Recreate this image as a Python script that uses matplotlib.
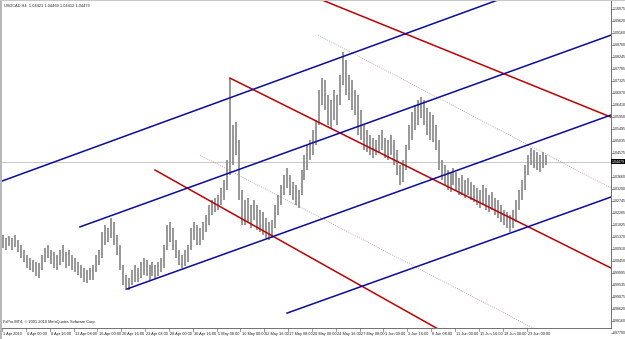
import matplotlib.pyplot as plt
from matplotlib.patches import Rectangle
import matplotlib.transforms as mtransforms

# USDCAD H4 chart, 1 Apr - 23 Jun 2010
header = "USDCAD,H4  1.04421 1.04469 1.04412 1.04479"
copyright_text = "FxPro MT4, \u00a9 2001-2010 MetaQuotes Software Corp."
last_price = 1.0423
last_label = "1.04479"

time_labels = ["1 Apr 2010", "6 Apr 00:00", "8 Apr 16:00", "13 Apr 08:00", "16 Apr 00:00",
               "20 Apr 16:00", "23 Apr 08:00", "28 Apr 00:00", "30 Apr 16:00", "5 May 08:00",
               "10 May 00:00", "12 May 16:00", "17 May 08:00", "20 May 00:00", "24 May 16:00",
               "27 May 08:00", "1 Jun 00:00", "3 Jun 16:00", "8 Jun 08:00", "11 Jun 00:00",
               "15 Jun 16:00", "18 Jun 08:00", "23 Jun 00:00"]
bars_per_label = 16

price_ticks = [0.97700, 0.98160, 0.98620, 0.99075, 0.99535, 0.99995, 1.00450, 1.00910,
               1.01370, 1.01825, 1.02285, 1.02745, 1.03200, 1.03660, 1.04575,
               1.05035, 1.05495, 1.05950, 1.06410, 1.06870, 1.07325, 1.07785, 1.08245,
               1.08700, 1.09160, 1.09620, 1.10075]

# every second H4 bar: high / low
bar_high = [1.0144, 1.0133, 1.0140, 1.0133, 1.0144, 1.0125, 1.0106, 1.0087, 1.0068, 1.0056,
            1.0049, 1.0041, 1.0037, 1.0068, 1.0094, 1.0106, 1.0087, 1.0079, 1.0068, 1.0087,
            1.0106, 1.0079, 1.0087, 1.0068, 1.0056, 1.0041, 1.0030, 1.0018, 1.0010, 1.0018,
            1.0030, 1.0068, 1.0087, 1.0155, 1.0182, 1.0171, 1.0209, 1.0194, 1.0144, 1.0106,
            1.0030, 0.9991, 0.9980, 1.0010, 1.0030, 1.0018, 1.0041, 1.0056, 1.0049, 1.0030,
            1.0041, 1.0030, 1.0041, 1.0056, 1.0106, 1.0182, 1.0194, 1.0171, 1.0125, 1.0087,
            1.0068, 1.0087, 1.0106, 1.0171, 1.0194, 1.0182, 1.0171, 1.0194, 1.0220, 1.0259,
            1.0278, 1.0285, 1.0297, 1.0323, 1.0354, 1.0430, 1.0743, 1.0564, 1.0575, 1.0507,
            1.0316, 1.0278, 1.0285, 1.0259, 1.0278, 1.0259, 1.0239, 1.0232, 1.0209, 1.0194,
            1.0201, 1.0259, 1.0297, 1.0335, 1.0373, 1.0400, 1.0373, 1.0346, 1.0335, 1.0316,
            1.0392, 1.0449, 1.0488, 1.0507, 1.0545, 1.0583, 1.0698, 1.0743, 1.0736, 1.0678,
            1.0659, 1.0698, 1.0678, 1.0755, 1.0843, 1.0812, 1.0755, 1.0736, 1.0698, 1.0678,
            1.0621, 1.0564, 1.0545, 1.0526, 1.0514, 1.0507, 1.0526, 1.0545, 1.0514, 1.0507,
            1.0526, 1.0507, 1.0468, 1.0411, 1.0430, 1.0488, 1.0564, 1.0614, 1.0640, 1.0659,
            1.0671, 1.0659, 1.0629, 1.0614, 1.0602, 1.0564, 1.0507, 1.0430, 1.0411, 1.0392,
            1.0385, 1.0400, 1.0385, 1.0362, 1.0373, 1.0354, 1.0362, 1.0346, 1.0335, 1.0323,
            1.0316, 1.0335, 1.0323, 1.0297, 1.0308, 1.0285, 1.0278, 1.0259, 1.0239, 1.0232,
            1.0220, 1.0239, 1.0278, 1.0316, 1.0354, 1.0411, 1.0449, 1.0476, 1.0468, 1.0461,
            1.0449, 1.0461, 1.0449]
bar_low = [1.0094, 1.0087, 1.0102, 1.0087, 1.0098, 1.0079, 1.0056, 1.0041, 1.0018, 1.0010,
           1.0003, 0.9988, 0.9980, 1.0010, 1.0041, 1.0056, 1.0033, 1.0018, 1.0010, 1.0030,
           1.0041, 1.0018, 1.0026, 1.0010, 1.0003, 0.9991, 0.9980, 0.9965, 0.9961, 0.9972,
           0.9972, 1.0003, 1.0030, 1.0056, 1.0106, 1.0117, 1.0133, 1.0106, 1.0068, 1.0010,
           0.9953, 0.9934, 0.9934, 0.9953, 0.9965, 0.9965, 0.9980, 0.9991, 0.9988, 0.9972,
           0.9988, 0.9980, 0.9988, 1.0003, 1.0018, 1.0087, 1.0117, 1.0087, 1.0056, 1.0030,
           1.0018, 1.0026, 1.0041, 1.0087, 1.0125, 1.0106, 1.0106, 1.0125, 1.0155, 1.0182,
           1.0220, 1.0232, 1.0239, 1.0259, 1.0278, 1.0316, 1.0373, 1.0411, 1.0449, 1.0278,
           1.0182, 1.0182, 1.0194, 1.0171, 1.0201, 1.0163, 1.0155, 1.0144, 1.0133, 1.0125,
           1.0133, 1.0171, 1.0220, 1.0259, 1.0297, 1.0323, 1.0297, 1.0278, 1.0259, 1.0247,
           1.0297, 1.0354, 1.0392, 1.0430, 1.0449, 1.0488, 1.0564, 1.0640, 1.0621, 1.0564,
           1.0552, 1.0583, 1.0564, 1.0640, 1.0717, 1.0678, 1.0659, 1.0621, 1.0602, 1.0526,
           1.0507, 1.0468, 1.0461, 1.0449, 1.0438, 1.0449, 1.0461, 1.0468, 1.0438, 1.0430,
           1.0449, 1.0411, 1.0373, 1.0335, 1.0346, 1.0392, 1.0468, 1.0507, 1.0545, 1.0564,
           1.0591, 1.0564, 1.0526, 1.0507, 1.0499, 1.0468, 1.0392, 1.0354, 1.0335, 1.0316,
           1.0308, 1.0335, 1.0316, 1.0297, 1.0297, 1.0285, 1.0297, 1.0278, 1.0270, 1.0259,
           1.0247, 1.0259, 1.0239, 1.0232, 1.0239, 1.0220, 1.0209, 1.0194, 1.0182, 1.0171,
           1.0155, 1.0171, 1.0194, 1.0239, 1.0278, 1.0316, 1.0373, 1.0411, 1.0400, 1.0392,
           1.0385, 1.0400, 1.0411]

# trendlines: ((bar, price), (bar, price))
blue_lines = [((0.0, 1.0350), (347.7, 1.1072)),
              ((52.3, 1.0175), (408.7, 1.0907)),
              ((83.9, 0.9938), (408.7, 1.0602)),
              ((191.3, 0.9846), (408.7, 1.0289))]
red_lines = [((214.8, 1.1041), (408.7, 1.0594)),
             ((153.0, 1.0743), (408.7, 1.0018)),
             ((102.7, 1.0392), (294.0, 0.9781))]
dotted_lines = [((212.1, 1.0907), (408.7, 1.0323)),
                ((132.9, 1.0449), (359.1, 0.9781))]

FONT = 'Liberation Sans'
fs = 2.6

fig = plt.figure(figsize=(6.25, 3.39), dpi=100)
fig.patch.set_facecolor('white')
ax = fig.add_axes([2 / 625, 11 / 339, 609 / 625, 327 / 339])
ax.set_xlim(0, 408.7)
ax.set_ylim(0.97891, 1.10372)
ax.set_xticks([])
ax.set_yticks([])
for side in ['top', 'left']:
    ax.spines[side].set_visible(False)
for side in ['right', 'bottom']:
    ax.spines[side].set_color('#707070')
    ax.spines[side].set_linewidth(0.7)

# left border strip
fig.patches.append(Rectangle((0, 0), 2 / 625, 1, transform=fig.transFigure,
                             facecolor='#b8b8b8', edgecolor='none'))
fig.patches.append(Rectangle((0, 1 - 1 / 339), 1, 1 / 339, transform=fig.transFigure,
                             facecolor='#c8c8c8', edgecolor='none'))

# current price line
ax.axhline(last_price, color='#c8c8c8', lw=0.7, zorder=1)

# price bars
xs = [2 * k + 1 for k in range(len(bar_high))]
ax.vlines(xs, bar_low, bar_high, color='#858585', lw=1.2, zorder=2)

for (x0, y0), (x1, y1) in dotted_lines:
    ax.plot([x0, x1], [y0, y1], color='#b09090', lw=0.6, ls=(0, (1, 1.5)), zorder=3)
for (x0, y0), (x1, y1) in red_lines:
    ax.plot([x0, x1], [y0, y1], color='#c00000', lw=1.1, zorder=4)
for (x0, y0), (x1, y1) in blue_lines:
    ax.plot([x0, x1], [y0, y1], color='#0a0a9e', lw=1.1, zorder=4)

# price scale on the right
rtrans = mtransforms.blended_transform_factory(ax.transAxes, ax.transData)
for p in price_ticks:
    ax.plot([1.0, 1.003], [p, p], color='#707070', lw=0.5, transform=rtrans, clip_on=False)
    ax.text(1.0035, p, f"{p:.5f}", transform=rtrans, fontsize=fs, family=FONT,
            ha='left', va='center', color='#202020', clip_on=False)
ax.text(1.0015, last_price, last_label, transform=rtrans, fontsize=fs, family=FONT,
        ha='left', va='center', color='white', clip_on=False,
        bbox=dict(boxstyle='square,pad=0.15', fc='black', ec='none'))

# time scale
btrans = mtransforms.blended_transform_factory(ax.transData, ax.transAxes)
for j, lab in enumerate(time_labels):
    x = j * bars_per_label
    ax.plot([x, x], [0, -0.008], color='#707070', lw=0.5, transform=btrans, clip_on=False)
    ax.text(x + 0.8, -0.012, lab, transform=btrans, fontsize=2.75, family=FONT,
            ha='left', va='top', color='#202020', clip_on=False)

ax.text(0.004, 0.985, header, transform=ax.transAxes, fontsize=2.75, family=FONT,
        ha='left', va='center', color='#202020')
ax.text(0.001, 0.018, copyright_text, transform=ax.transAxes, fontsize=2.75, family=FONT,
        ha='left', va='center', color='#202020')

fig.savefig('out.png', dpi=100, facecolor='white')
